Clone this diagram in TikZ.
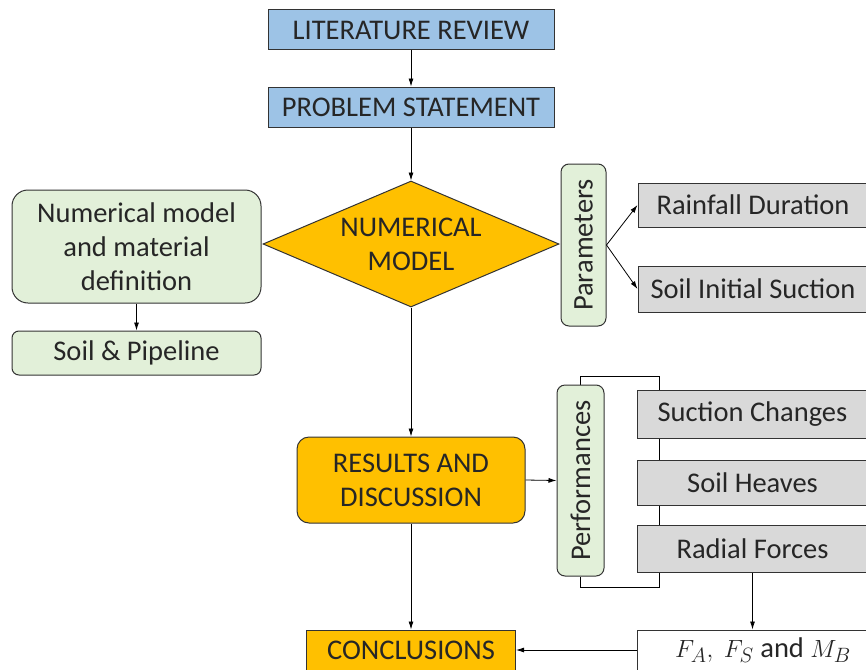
\documentclass[tikz,border=0pt]{standalone}
\usepackage{fontspec}
\setmainfont{Carlito}
\usetikzlibrary{shapes.geometric,arrows.meta,backgrounds}
\definecolor{boxblue}{HTML}{9DC3E6}
\definecolor{boxorange}{HTML}{FFC000}
\definecolor{boxgreen}{HTML}{E2F0D9}
\definecolor{boxgray}{HTML}{D9D9D9}
\definecolor{edge}{HTML}{333333}
\definecolor{ink}{HTML}{262626}
\tikzset{
  base/.style={draw=edge, line width=1pt, text=ink, inner sep=0pt, align=center,
    font=\fontsize{28.5}{34}\selectfont},
  bluebox/.style={base, fill=boxblue},
  orangebox/.style={base, fill=boxorange},
  greenbox/.style={base, fill=boxgreen},
  graybox/.style={base, fill=boxgray},
  whitebox/.style={base, fill=white},
  flow/.style={draw=black, line width=0.8pt, -{Latex[length=8pt,width=5pt]}},
  plain/.style={draw=black, line width=0.8pt},
}
\begin{document}
\begin{tikzpicture}[x=1pt,y=-1pt]
\useasboundingbox (0,0) rectangle (866,669);

% top of the flow
\node[bluebox, minimum width=286pt, minimum height=40pt] (lit) at (411,30) {LITERATURE REVIEW};
\node[bluebox, minimum width=286pt, minimum height=40pt] (prob) at (411,107) {PROBLEM STATEMENT};
\node[orangebox, diamond, minimum width=296pt, minimum height=126pt] (num) at (411,244) {};
\node[base, draw=none] (numtext) at (num.center) {NUMERICAL\\MODEL};

% model definition branch
\node[greenbox, rounded corners=16pt, minimum width=249pt, minimum height=113pt] (def) at (136.5,246.5) {Numerical model\\and material\\definition};
\node[greenbox, rounded corners=7pt, minimum width=249pt, minimum height=44pt] (soil) at (136.5,353) {Soil \& Pipeline};

% parameters branch
\node[greenbox, rounded corners=8pt, rotate=90, minimum width=162pt, minimum height=45pt] (par) at (583.5,245) {Parameters};
\node[graybox, minimum width=230pt, minimum height=44pt] (rain) at (753,205) {Rainfall Duration};
\node[graybox, minimum width=230pt, minimum height=46pt] (suc0) at (753,289) {Soil Initial Suction};

% results
\node[orangebox, rounded corners=12pt, minimum width=228pt, minimum height=86pt] (res) at (411,480) {RESULTS AND\\DISCUSSION};
\node[greenbox, rounded corners=8pt, rotate=90, minimum width=191pt, minimum height=47pt] (perf) at (580.5,480.5) {Performances};
\node[graybox, minimum width=231pt, minimum height=48pt] (sch) at (752.5,414) {Suction Changes};
\node[graybox, minimum width=231pt, minimum height=45pt] (hv) at (752.5,482.5) {Soil Heaves};
\node[graybox, minimum width=231pt, minimum height=47pt] (rad) at (752.5,548.5) {Radial Forces};

% bottom row
\node[orangebox, minimum width=209pt, minimum height=40pt] (conc) at (411,650) {CONCLUSIONS};
\node[whitebox, minimum width=252pt, minimum height=40pt] (forces) at (763,650) {$F_A,\ F_S$ and $M_B$};

% bracket tying the performance measures together
\coordinate (bt) at (659,376);
\coordinate (bb) at (659,587);
\begin{scope}[on background layer]
  \draw[plain] (perf.east) |- (bt) -- (bb) -| (perf.west);
\end{scope}

% connectors
\draw[flow] (lit) -- (prob);
\draw[flow] (prob) -- (num.north);
\draw[flow] (def.south) -- (soil.north);
\draw[flow] (par.south) -- (rain.west);
\draw[flow] (par.south) -- (suc0.west);
\draw[flow] (num.south) -- (res.north);
\draw[flow] (res.east) -- (perf.north);
\draw[flow] (res.south) -- (conc.north);
\draw[flow] (rad.south) -- (rad.south |- forces.north);
\draw[flow] (forces.west) -- (conc.east);
\end{tikzpicture}
\end{document}
